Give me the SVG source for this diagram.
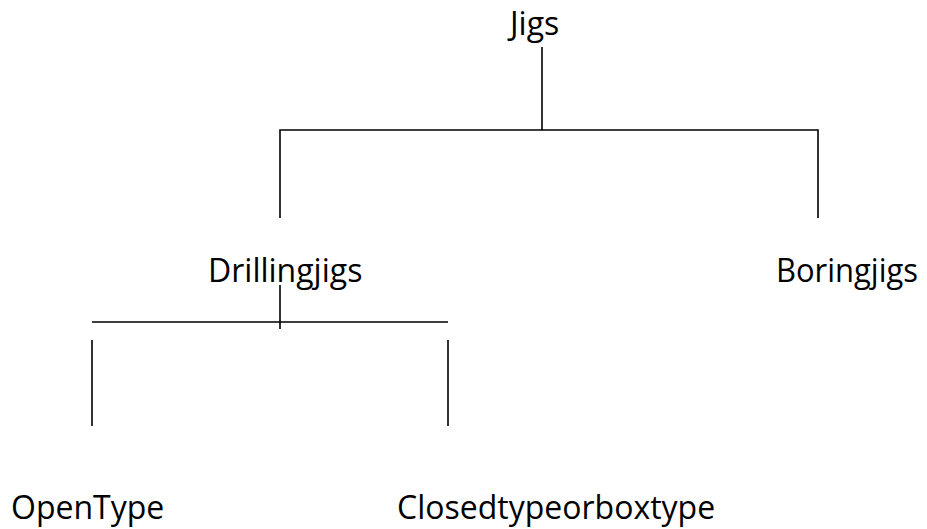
<svg xmlns="http://www.w3.org/2000/svg" width="927" height="529" viewBox="0 0 927 529">
<style>
.t{font-family:"Open Sans","Liberation Sans",sans-serif;font-size:32px;fill:#000}
.c{stroke:#000;stroke-width:1.6;fill:none}
</style>
<rect width="927" height="529" fill="#fff"/>
<g id="jigs"><text class="t" x="510" y="35">Jigs</text></g>
<g id="drilling"><text class="t" x="208" y="282">Drillingjigs</text></g>
<g id="boring"><text class="t" x="776" y="282" textLength="142" lengthAdjust="spacingAndGlyphs">Boringjigs</text></g>
<g id="open"><text class="t" x="11" y="519">OpenType</text></g>
<g id="closed"><text class="t" x="397" y="519">Closedtypeorboxtype</text></g>
<g id="connectors">
<path class="c" d="M542 47V130M280 218V130H818V218"/>
<path class="c" d="M280 285V329M92 322H448M92 340V426M448 340V426"/>
</g>
</svg>
